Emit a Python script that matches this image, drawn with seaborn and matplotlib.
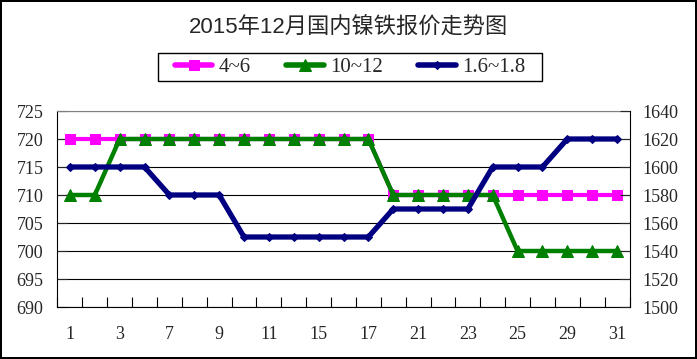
import numpy as np
import matplotlib
matplotlib.use("Agg")
import matplotlib.pyplot as plt
from matplotlib.patches import Rectangle
import seaborn as sns

# 2015年12月 交易日
days = [1, 2, 3, 4, 7, 8, 9, 10, 11, 14, 15, 16, 17, 18, 21, 22, 23, 24, 25, 28, 29, 30, 31]
# 4~6 镍铁报价（左轴）
price_4_6 = [720, 720, 720, 720, 720, 720, 720, 720, 720, 720, 720, 720, 720,
             710, 710, 710, 710, 710, 710, 710, 710, 710, 710]
# 10~12 镍铁报价（左轴）
price_10_12 = [710, 710, 720, 720, 720, 720, 720, 720, 720, 720, 720, 720, 720,
               710, 710, 710, 710, 710, 700, 700, 700, 700, 700]
# 1.6~1.8 镍铁报价（右轴）
price_16_18 = [1600, 1600, 1600, 1600, 1580, 1580, 1580, 1550, 1550, 1550, 1550, 1550,
               1550, 1570, 1570, 1570, 1570, 1600, 1600, 1600, 1620, 1620, 1620]
series_labels = ["4~6", "10~12", "1.6~1.8"]
left_ticks = [690, 695, 700, 705, 710, 715, 720, 725]
right_ticks = [1500, 1520, 1540, 1560, 1580, 1600, 1620, 1640]

sns.set_style("ticks")
plt.rcParams['font.family'] = ['Liberation Serif', 'Noto Sans CJK SC']

W, H = 697, 359
fig = plt.figure(figsize=(W / 100, H / 100), dpi=100)
fig.patch.set_edgecolor('black')
fig.patch.set_linewidth(1.5)

# 绘图区
x0, x1, y_top, y_bot = 57.5, 629.5, 111, 307
ax = fig.add_axes([x0 / W, (H - y_bot) / H, (x1 - x0) / W, (y_bot - y_top) / H])
ax2 = ax.twinx()

pos = np.arange(len(days))
sns.lineplot(x=pos, y=price_4_6, ax=ax, color='#FF00FF', linewidth=3,
             marker='s', markersize=6.5, markeredgecolor='#FF00FF', legend=False)
sns.lineplot(x=pos, y=price_10_12, ax=ax, color='#008000', linewidth=3.2,
             marker='^', markersize=8, markeredgecolor='#008000', legend=False)
sns.lineplot(x=pos, y=price_16_18, ax=ax2, color='#000080', linewidth=3.8,
             marker='D', markersize=4.5, markeredgecolor='#000080', legend=False)

ax.set_xlim(-0.5, len(days) - 0.5)
ax.set_ylim(left_ticks[0], left_ticks[-1])
ax2.set_ylim(right_ticks[0], right_ticks[-1])
ax.set_yticks(left_ticks)
ax2.set_yticks(right_ticks)
ax.set_xticks(pos[::2])
ax.set_xticklabels([str(d) for d in days[::2]])
ax.set_xticks(np.arange(-0.5, len(days), 1), minor=True)
ax.set_xlabel('')
ax.set_ylabel('')
ax2.set_ylabel('')

ax.grid(axis='y', color='black', linewidth=0.8)
ax.grid(axis='x', visible=False)
ax.set_axisbelow(True)

ax.tick_params(axis='x', which='major', length=0, pad=14, labelsize=13)
ax.tick_params(axis='x', which='minor', direction='in', length=7, width=0.8, color='black')
ax.tick_params(axis='y', direction='in', length=7, width=0.8, pad=10, labelsize=13)
ax2.tick_params(axis='y', direction='in', length=7, width=0.8, pad=9, labelsize=13)

for side in ['left', 'bottom']:
    ax.spines[side].set_color('black')
    ax.spines[side].set_linewidth(0.8)
ax.spines['top'].set_color('#808080')
ax.spines['top'].set_linewidth(0.8)
ax.spines['right'].set_visible(False)
for side in ['left', 'bottom', 'top']:
    ax2.spines[side].set_visible(False)
ax2.spines['right'].set_color('black')
ax2.spines['right'].set_linewidth(0.8)

# 标题
fig.text(348 / W, 1 - 27 / H, '2015年12月国内镍铁报价走势图', ha='center', va='center',
         fontsize=16, family=['Liberation Sans', 'Noto Sans CJK SC'])

# 图例
handles = ax.lines[:2] + ax2.lines[:1]
leg = fig.legend(handles, series_labels, loc='center', bbox_to_anchor=(350 / W, 1 - 67 / H),
                 ncol=3, frameon=False, handlelength=1.8, handletextpad=0.3,
                 columnspacing=1.7, prop={'size': 15, 'family': 'Liberation Serif'})
for line in leg.get_lines():
    line.set_linewidth(4)
fig.add_artist(Rectangle((158 / W, 1 - 81 / H), 384 / W, 28 / H, transform=fig.transFigure,
                         fill=False, edgecolor='black', linewidth=1))

fig.savefig('out.png', dpi=100)
